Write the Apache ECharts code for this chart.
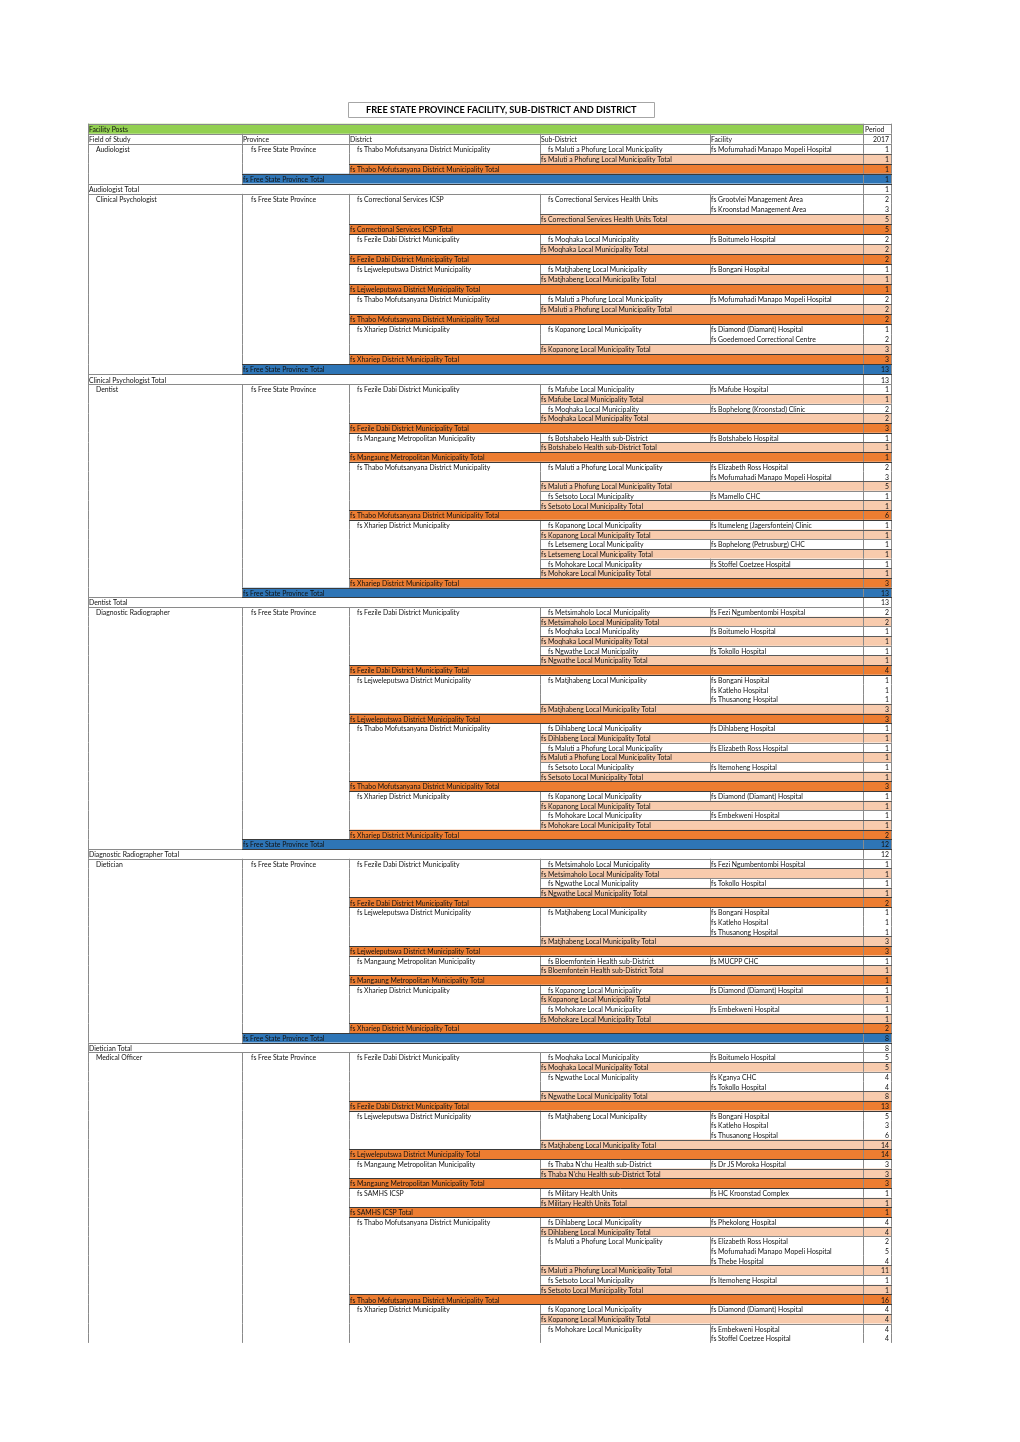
<!DOCTYPE html>
<html><head><meta charset="utf-8">
<script src="https://cdn.jsdelivr.net/npm/echarts@6/dist/echarts.min.js"></script>
<style>html,body{margin:0;padding:0;background:#fff}#c{width:1020px;height:1442px}</style>
</head><body><div id="c"></div>
<script>
const reportTitle = 'FREE STATE PROVINCE FACILITY, SUB-DISTRICT AND DISTRICT';
const pivotTitle = 'Facility Posts';
const headerLabels = ['Field of Study', 'Province', 'District', 'Sub-District', 'Facility'];
const periodLabel = 'Period';
const periodYear = '2017';
const PROV = 'fs Free State Province';
const fieldsOfStudy = ['Audiologist', 'Clinical Psychologist', 'Dentist', 'Diagnostic Radiographer', 'Dietician', 'Medical Officer'];

const D_TM = 'fs Thabo Mofutsanyana District Municipality', D_CS = 'fs Correctional Services ICSP',
  D_FD = 'fs Fezile Dabi District Municipality', D_LJ = 'fs Lejweleputswa District Municipality',
  D_XH = 'fs Xhariep District Municipality', D_MM = 'fs Mangaung Metropolitan Municipality', D_SA = 'fs SAMHS ICSP';
const S_MP = 'fs Maluti a Phofung Local Municipality', S_CH = 'fs Correctional Services Health Units',
  S_MQ = 'fs Moqhaka Local Municipality', S_MJ = 'fs Matjhabeng Local Municipality', S_KP = 'fs Kopanong Local Municipality',
  S_MF = 'fs Mafube Local Municipality', S_BH = 'fs Botshabelo Health sub-District', S_ST = 'fs Setsoto Local Municipality',
  S_LT = 'fs Letsemeng Local Municipality', S_MK = 'fs Mohokare Local Municipality', S_MH = 'fs Metsimaholo Local Municipality',
  S_NG = 'fs Ngwathe Local Municipality', S_DH = 'fs Dihlabeng Local Municipality', S_BF = 'fs Bloemfontein Health sub-District',
  S_TN = "fs Thaba N'chu Health sub-District", S_MU = 'fs Military Health Units';

// detail rows: ['d', district, subDistrict, facility, posts]; totals: [kind, name, posts]
const audiologistRows = [
  ['d', D_TM, S_MP, 'fs Mofumahadi Manapo Mopeli Hospital', 1],
  ['s', S_MP, 1], ['t', D_TM, 1], ['p', PROV, 1], ['f', 'Audiologist', 1]
];
const clinicalPsychologistRows = [
  ['d', D_CS, S_CH, 'fs Grootvlei Management Area', 2],
  ['d', '', '', 'fs Kroonstad Management Area', 3],
  ['s', S_CH, 5], ['t', D_CS, 5],
  ['d', D_FD, S_MQ, 'fs Boitumelo Hospital', 2],
  ['s', S_MQ, 2], ['t', D_FD, 2],
  ['d', D_LJ, S_MJ, 'fs Bongani Hospital', 1],
  ['s', S_MJ, 1], ['t', D_LJ, 1],
  ['d', D_TM, S_MP, 'fs Mofumahadi Manapo Mopeli Hospital', 2],
  ['s', S_MP, 2], ['t', D_TM, 2],
  ['d', D_XH, S_KP, 'fs Diamond (Diamant) Hospital', 1],
  ['d', '', '', 'fs Goedemoed Correctional Centre', 2],
  ['s', S_KP, 3], ['t', D_XH, 3],
  ['p', PROV, 13], ['f', 'Clinical Psychologist', 13]
];
const dentistRows = [
  ['d', D_FD, S_MF, 'fs Mafube Hospital', 1],
  ['s', S_MF, 1],
  ['d', '', S_MQ, 'fs Bophelong (Kroonstad) Clinic', 2],
  ['s', S_MQ, 2], ['t', D_FD, 3],
  ['d', D_MM, S_BH, 'fs Botshabelo Hospital', 1],
  ['s', S_BH, 1], ['t', D_MM, 1],
  ['d', D_TM, S_MP, 'fs Elizabeth Ross Hospital', 2],
  ['d', '', '', 'fs Mofumahadi Manapo Mopeli Hospital', 3],
  ['s', S_MP, 5],
  ['d', '', S_ST, 'fs Mamello CHC', 1],
  ['s', S_ST, 1], ['t', D_TM, 6],
  ['d', D_XH, S_KP, 'fs Itumeleng (Jagersfontein) Clinic', 1],
  ['s', S_KP, 1],
  ['d', '', S_LT, 'fs Bophelong (Petrusburg) CHC', 1],
  ['s', S_LT, 1],
  ['d', '', S_MK, 'fs Stoffel Coetzee Hospital', 1],
  ['s', S_MK, 1], ['t', D_XH, 3],
  ['p', PROV, 13], ['f', 'Dentist', 13]
];
const radiographerRows = [
  ['d', D_FD, S_MH, 'fs Fezi Ngumbentombi Hospital', 2],
  ['s', S_MH, 2],
  ['d', '', S_MQ, 'fs Boitumelo Hospital', 1],
  ['s', S_MQ, 1],
  ['d', '', S_NG, 'fs Tokollo Hospital', 1],
  ['s', S_NG, 1], ['t', D_FD, 4],
  ['d', D_LJ, S_MJ, 'fs Bongani Hospital', 1],
  ['d', '', '', 'fs Katleho Hospital', 1],
  ['d', '', '', 'fs Thusanong Hospital', 1],
  ['s', S_MJ, 3], ['t', D_LJ, 3],
  ['d', D_TM, S_DH, 'fs Dihlabeng Hospital', 1],
  ['s', S_DH, 1],
  ['d', '', S_MP, 'fs Elizabeth Ross Hospital', 1],
  ['s', S_MP, 1],
  ['d', '', S_ST, 'fs Itemoheng Hospital', 1],
  ['s', S_ST, 1], ['t', D_TM, 3],
  ['d', D_XH, S_KP, 'fs Diamond (Diamant) Hospital', 1],
  ['s', S_KP, 1],
  ['d', '', S_MK, 'fs Embekweni Hospital', 1],
  ['s', S_MK, 1], ['t', D_XH, 2],
  ['p', PROV, 12], ['f', 'Diagnostic Radiographer', 12]
];
const dieticianRows = [
  ['d', D_FD, S_MH, 'fs Fezi Ngumbentombi Hospital', 1],
  ['s', S_MH, 1],
  ['d', '', S_NG, 'fs Tokollo Hospital', 1],
  ['s', S_NG, 1], ['t', D_FD, 2],
  ['d', D_LJ, S_MJ, 'fs Bongani Hospital', 1],
  ['d', '', '', 'fs Katleho Hospital', 1],
  ['d', '', '', 'fs Thusanong Hospital', 1],
  ['s', S_MJ, 3], ['t', D_LJ, 3],
  ['d', D_MM, S_BF, 'fs MUCPP CHC', 1],
  ['s', S_BF, 1], ['t', D_MM, 1],
  ['d', D_XH, S_KP, 'fs Diamond (Diamant) Hospital', 1],
  ['s', S_KP, 1],
  ['d', '', S_MK, 'fs Embekweni Hospital', 1],
  ['s', S_MK, 1], ['t', D_XH, 2],
  ['p', PROV, 8], ['f', 'Dietician', 8]
];
const medicalOfficerRows = [
  ['d', D_FD, S_MQ, 'fs Boitumelo Hospital', 5],
  ['s', S_MQ, 5],
  ['d', '', S_NG, 'fs Kganya CHC', 4],
  ['d', '', '', 'fs Tokollo Hospital', 4],
  ['s', S_NG, 8], ['t', D_FD, 13],
  ['d', D_LJ, S_MJ, 'fs Bongani Hospital', 5],
  ['d', '', '', 'fs Katleho Hospital', 3],
  ['d', '', '', 'fs Thusanong Hospital', 6],
  ['s', S_MJ, 14], ['t', D_LJ, 14],
  ['d', D_MM, S_TN, 'fs Dr JS Moroka Hospital', 3],
  ['s', S_TN, 3], ['t', D_MM, 3],
  ['d', D_SA, S_MU, 'fs HC Kroonstad Complex', 1],
  ['s', S_MU, 1], ['t', D_SA, 1],
  ['d', D_TM, S_DH, 'fs Phekolong Hospital', 4],
  ['s', S_DH, 4],
  ['d', '', S_MP, 'fs Elizabeth Ross Hospital', 2],
  ['d', '', '', 'fs Mofumahadi Manapo Mopeli Hospital', 5],
  ['d', '', '', 'fs Thebe Hospital', 4],
  ['s', S_MP, 11],
  ['d', '', S_ST, 'fs Itemoheng Hospital', 1],
  ['s', S_ST, 1], ['t', D_TM, 16],
  ['d', D_XH, S_KP, 'fs Diamond (Diamant) Hospital', 4],
  ['s', S_KP, 4],
  ['d', '', S_MK, 'fs Embekweni Hospital', 4],
  ['d', '', '', 'fs Stoffel Coetzee Hospital', 4]
];
const fieldBlocks = [audiologistRows, clinicalPsychologistRows, dentistRows, radiographerRows, dieticianRows, medicalOfficerRows];

// ---- build table rows ----
const tableRows = [{ kind: 'h0' }, { kind: 'h1' }];
fieldBlocks.forEach((block, k) => {
  block.forEach((r, j) => {
    if (r[0] === 'd') {
      tableRows.push({ kind: 'd', cells: [j === 0 ? fieldsOfStudy[k] : '', j === 0 ? PROV : '', r[1], r[2], r[3]], value: r[4] });
    } else {
      tableRows.push({ kind: r[0], label: r[1] + ' Total', value: r[2] });
    }
  });
});

// layout (pixel offsets of column boundaries from table's left edge)
const colX = [0, 154, 261, 452, 622, 775, 803];
const indent = [8, 9, 8, 8, 1];
const startCol = { s: 3, t: 2, p: 1, f: 0 };
const fillColor = { s: '#F8CBAD', t: '#ED7D31', p: '#2E75B6', f: '#FFFFFF' };
const FONT = '6.85px Lato, "Noto Sans", sans-serif';
const LIGHT = '#8a8a8a', DARK = '#3a3a3a';
const SPLIT = 26;

function renderRow(params, api) {
  const i = api.value(1);
  const r = tableRows[i];
  const yTop = api.coord([0, i])[1], yBot = api.coord([0, i + 1])[1];
  const yMid = (yTop + yBot) / 2 + 1;
  const xs = colX.map(v => api.coord([v, i])[0]);
  const ch = [];
  const crisp = v => Math.round(v) + 0.5;
  const fill = (x0, x1, color) => ch.push({ type: 'rect', z2: 0, shape: { x: x0, y: yTop, width: x1 - x0, height: yBot - yTop }, style: { fill: color } });
  const hline = (x0, x1, y, color) => ch.push({ type: 'line', z2: color === DARK ? 12 : 10, shape: { x1: crisp(x0) - 0.5, y1: crisp(y), x2: crisp(x1) + 0.5, y2: crisp(y) }, style: { stroke: color, lineWidth: 1 } });
  const vline = (x, color) => ch.push({ type: 'line', z2: 10, shape: { x1: crisp(x), y1: yTop, x2: crisp(x), y2: yBot }, style: { stroke: color || LIGHT, lineWidth: 1 } });
  const text = (x, str, align, color) => ch.push({ type: 'text', z2: 20, x: x, y: yMid, style: { text: str, fill: color || '#111', font: FONT, align: align || 'left', verticalAlign: 'middle' } });
  const valueText = (v, color) => text(xs[6] - 2, String(v), 'right', color);

  if (r.kind === 'h0') {
    fill(xs[0], xs[5], '#92D050');
    [0, 5, 6].forEach(c => vline(xs[c]));
    hline(xs[0], xs[6], yTop, LIGHT); hline(xs[0], xs[6], yBot, LIGHT);
    text(xs[0] + 1, pivotTitle);
    text(xs[5] + 2, periodLabel);
  } else if (r.kind === 'h1') {
    xs.forEach(x => vline(x));
    hline(xs[0], xs[6], yBot, LIGHT);
    headerLabels.forEach((l, c) => text(xs[c] + 1, l));
    valueText(periodYear);
  } else if (r.kind === 'd') {
    xs.forEach(x => vline(x));
    let first = -1;
    if (r.cells[0]) first = 0; else if (r.cells[2]) first = 2; else if (r.cells[3]) first = 3;
    if (first >= 0) hline(xs[first], xs[6], yTop, LIGHT);
    r.cells.forEach((t, c) => { if (t) text(xs[c] + indent[c], t); });
    valueText(r.value);
  } else {
    const s = startCol[r.kind];
    fill(xs[s], xs[6], fillColor[r.kind]);
    for (let c = 0; c <= s; c++) vline(xs[c]);
    vline(xs[5]); vline(xs[6]);
    const lc = (r.kind === 't' || r.kind === 'p') ? DARK : (r.kind === 's' ? '#5a5a5a' : LIGHT);
    hline(xs[s], xs[6], yTop, lc); hline(xs[s], xs[6], yBot, lc);
    text(xs[s] + 1, r.label);
    valueText(r.value);
  }
  return { type: 'group', children: ch };
}

const idx = tableRows.map((_, i) => i);
const chart = echarts.init(document.getElementById('c'), null, { renderer: 'canvas' });
chart.setOption({
  animation: false,
  backgroundColor: '#fff',
  title: {
    text: reportTitle, left: 348, top: 102, padding: [3, 18, 3, 18],
    borderColor: '#a6a6a6', borderWidth: 1,
    textStyle: { fontFamily: 'Lato, "Noto Sans", sans-serif', fontWeight: 'bold', fontSize: 9.2, color: '#000', lineHeight: 10 }
  },
  grid: [
    { left: 88, width: 803, top: 123.7, height: 260.6 },
    { left: 88, width: 803, top: 384.3, height: 958.6 }
  ],
  xAxis: [
    { gridIndex: 0, type: 'value', min: 0, max: 803, show: false },
    { gridIndex: 1, type: 'value', min: 0, max: 803, show: false }
  ],
  yAxis: [
    { gridIndex: 0, type: 'value', min: 0, max: SPLIT, inverse: true, show: false },
    { gridIndex: 1, type: 'value', min: SPLIT, max: tableRows.length, inverse: true, show: false }
  ],
  series: [
    { type: 'custom', xAxisIndex: 0, yAxisIndex: 0, renderItem: renderRow, encode: { x: 0, y: 1 },
      data: idx.filter(i => i < SPLIT).map(i => [0, i]) },
    { type: 'custom', xAxisIndex: 1, yAxisIndex: 1, renderItem: renderRow, encode: { x: 0, y: 1 },
      data: idx.filter(i => i >= SPLIT).map(i => [0, i]) }
  ]
});
</script>
</body></html>
